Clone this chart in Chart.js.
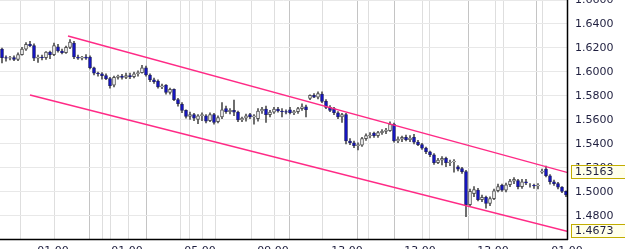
<!DOCTYPE html>
<html><head><meta charset="utf-8">
<script src="https://cdn.jsdelivr.net/npm/chart.js@4.4.1/dist/chart.umd.min.js"></script>
<style>html,body{margin:0;padding:0;background:#fff;overflow:hidden}</style>
</head><body>
<canvas id="c" width="625" height="249"></canvas>
<script>
// ---- data ----
const openP  = [1.619,1.612,1.6115,1.612,1.6105,1.6145,1.619,1.623,1.622,1.6115,1.6125,1.612,1.6165,1.6145,1.621,1.6175,1.616,1.6205,1.624,1.6125,1.6115,1.6125,1.6125,1.6035,1.599,1.5985,1.597,1.5945,1.589,1.5955,1.5965,1.5955,1.597,1.596,1.5985,1.5995,1.6035,1.5975,1.5935,1.5925,1.5875,1.589,1.583,1.5855,1.577,1.573,1.568,1.563,1.5645,1.5605,1.5635,1.5635,1.5595,1.5645,1.5585,1.5625,1.5695,1.567,1.568,1.5665,1.560,1.5615,1.5645,1.5625,1.561,1.5675,1.569,1.5645,1.5665,1.569,1.5675,1.567,1.5685,1.566,1.567,1.5695,1.571,1.578,1.5805,1.579,1.5815,1.5755,1.5705,1.5695,1.566,1.5625,1.5645,1.5425,1.541,1.5385,1.539,1.5445,1.547,1.549,1.547,1.5495,1.5505,1.551,1.5565,1.5425,1.544,1.5455,1.5435,1.5455,1.5415,1.5395,1.5365,1.5335,1.531,1.5245,1.5265,1.528,1.5245,1.525,1.521,1.5195,1.517,1.4895,1.4985,1.5015,1.4935,1.4955,1.4905,1.4945,1.501,1.5055,1.5015,1.506,1.509,1.5095,1.5045,1.5085,1.5055,1.5055,1.505,1.5165,1.519,1.5135,1.5085,1.507,1.504,1.5005];
const highP  = [1.620,1.6135,1.613,1.6135,1.616,1.6205,1.6245,1.6255,1.6235,1.614,1.614,1.617,1.6175,1.624,1.623,1.619,1.6215,1.627,1.6255,1.614,1.613,1.6145,1.6135,1.604,1.600,1.5995,1.5985,1.5955,1.5965,1.5975,1.598,1.599,1.599,1.600,1.601,1.6055,1.605,1.5985,1.595,1.5935,1.590,1.5895,1.5865,1.586,1.578,1.5745,1.5685,1.5665,1.5655,1.5645,1.566,1.5645,1.566,1.5655,1.5635,1.5745,1.5715,1.5695,1.5765,1.5675,1.5625,1.565,1.5655,1.5645,1.5695,1.5705,1.5715,1.568,1.5705,1.5705,1.5695,1.5685,1.5705,1.568,1.5705,1.5735,1.5725,1.581,1.582,1.5835,1.5835,1.577,1.572,1.5705,1.567,1.5655,1.5655,1.5445,1.5425,1.541,1.5455,1.5485,1.5495,1.550,1.5505,1.552,1.553,1.5585,1.5575,1.546,1.5465,1.5475,1.547,1.548,1.543,1.5405,1.5375,1.534,1.532,1.528,1.5295,1.529,1.5265,1.527,1.522,1.5205,1.518,1.5025,1.5045,1.503,1.4975,1.4965,1.496,1.5025,1.5065,1.5065,1.5075,1.5105,1.512,1.5105,1.5105,1.5105,1.507,1.5065,1.507,1.519,1.5215,1.5145,1.510,1.508,1.5045,1.501];
const lowP   = [1.6075,1.609,1.610,1.6095,1.6095,1.614,1.618,1.621,1.6095,1.608,1.610,1.6105,1.611,1.6135,1.6165,1.615,1.6155,1.6195,1.611,1.6105,1.610,1.6105,1.6025,1.5975,1.5965,1.594,1.5935,1.5865,1.5875,1.594,1.594,1.5945,1.5945,1.595,1.5965,1.599,1.5965,1.592,1.5905,1.5865,1.586,1.5815,1.5815,1.576,1.5715,1.566,1.5615,1.5605,1.5595,1.557,1.5595,1.5575,1.5585,1.5565,1.5575,1.561,1.5655,1.565,1.5635,1.5585,1.5585,1.559,1.561,1.5565,1.559,1.5655,1.558,1.5625,1.5655,1.5665,1.5625,1.565,1.565,1.5645,1.5655,1.568,1.5625,1.577,1.5785,1.5775,1.5745,1.5695,1.567,1.5645,1.561,1.558,1.540,1.5395,1.537,1.535,1.538,1.543,1.545,1.5455,1.5455,1.548,1.5485,1.5505,1.5415,1.541,1.542,1.5425,1.542,1.540,1.5385,1.5355,1.532,1.5295,1.523,1.5235,1.5225,1.521,1.522,1.5165,1.5175,1.5155,1.4795,1.4885,1.496,1.4925,1.492,1.4865,1.4885,1.4935,1.500,1.5005,1.500,1.5045,1.507,1.5025,1.503,1.506,1.504,1.503,1.5025,1.5155,1.5125,1.5065,1.5055,1.5025,1.4995,1.496];
const closeP = [1.612,1.6115,1.612,1.6105,1.6145,1.619,1.623,1.622,1.6115,1.6125,1.612,1.6165,1.6145,1.622,1.6175,1.616,1.6205,1.625,1.6125,1.6115,1.6125,1.6115,1.6035,1.599,1.5985,1.597,1.5945,1.5885,1.5955,1.5965,1.5955,1.597,1.596,1.5985,1.5995,1.6035,1.5975,1.5935,1.592,1.5875,1.5885,1.583,1.5855,1.577,1.5735,1.568,1.563,1.5645,1.5615,1.5635,1.5645,1.559,1.5645,1.558,1.562,1.5685,1.567,1.568,1.5665,1.560,1.5615,1.5635,1.5625,1.5635,1.5675,1.569,1.5645,1.5665,1.569,1.5675,1.567,1.5665,1.566,1.567,1.5695,1.571,1.5685,1.5805,1.579,1.582,1.5755,1.5705,1.568,1.566,1.5625,1.5645,1.5425,1.541,1.5385,1.5395,1.5445,1.547,1.5475,1.547,1.5495,1.5505,1.5515,1.5565,1.5425,1.544,1.5455,1.5435,1.545,1.5415,1.5395,1.5365,1.5335,1.531,1.5245,1.5265,1.528,1.5245,1.525,1.5255,1.519,1.517,1.4895,1.5005,1.502,1.4935,1.4955,1.4905,1.4945,1.501,1.5045,1.5015,1.506,1.509,1.5105,1.5045,1.5085,1.5075,1.5055,1.505,1.5055,1.5175,1.5135,1.5085,1.507,1.504,1.5005,1.4975];
const xTickPos    = [12.75, 31.25, 49.5, 67.75, 86.25, 104.5, 122.75, 141.25];
const xTickLabels = ['01:00','01:00','05:00','09:00','13:00','13:00','13:00','01:00'];
const yTickValues = [1.48, 1.50, 1.52, 1.54, 1.56, 1.58, 1.60, 1.62, 1.64, 1.66];
const sessionLines = [4.5, 13, 21.75, 25, 27, 31.5, 36, 44.5, 46.75, 50, 53.25, 62.25, 68, 71.75, 80, 88.75, 91.5, 98, 105, 106.75, 116.5, 123.25, 125.25, 133.5, 135];
const upperChannel = [[16.5, 1.630], [141.25, 1.5163]];
const lowerChannel = [[7, 1.5808], [141.25, 1.4673]];
const markerValues = [1.5163, 1.4673];

// ---- styling ----
const darkSession = new Set([21.75, 36, 71.75, 88.75, 98, 116.5, 133.5]);
const TXT = '#1f1f3f';
const FONT = {family: '"DejaVu Sans", Verdana, sans-serif', size: 11};
const idx = openP.map((_, i) => i);

const markerPlugin = {
  id: 'markers',
  afterDraw(chart) {
    const ys = chart.scales.y, ctx = chart.ctx, ca = chart.chartArea, left = ca.right + 4.5;
    ctx.save();
    // axis lines
    ctx.strokeStyle = '#000'; ctx.lineWidth = 1.5;
    ctx.beginPath();
    ctx.moveTo(ca.right + 0.5, 0); ctx.lineTo(ca.right + 0.5, ca.bottom + 1);
    ctx.moveTo(0, ca.bottom + 0.5); ctx.lineTo(ca.right + 1, ca.bottom + 0.5);
    ctx.stroke();
    markerValues.forEach(v => {
      const py = Math.round(ys.getPixelForValue(v));
      ctx.fillStyle = '#ffffea';
      ctx.fillRect(left, py - 6.5, 70, 13);
      ctx.strokeStyle = '#c2ad00'; ctx.lineWidth = 1;
      ctx.strokeRect(left, py - 6.5, 70, 13);
      ctx.fillStyle = TXT;
      ctx.font = '11px "DejaVu Sans", Verdana, sans-serif';
      ctx.textBaseline = 'middle'; ctx.textAlign = 'left';
      ctx.fillText(v.toFixed(4), left + 3.5, py + 0.5);
    });
    ctx.restore();
  }
};

new Chart(document.getElementById('c'), {
  data: {
    datasets: [
      {type: 'line', order: 1, data: upperChannel.map(p => ({x: p[0], y: p[1]})), borderColor: '#ff2a86', borderWidth: 1.4, pointRadius: 0, xAxisID: 'x'},
      {type: 'line', order: 1, data: lowerChannel.map(p => ({x: p[0], y: p[1]})), borderColor: '#ff2a86', borderWidth: 1.4, pointRadius: 0, xAxisID: 'x'},
      {type: 'bar', order: 2, grouped: false, barThickness: 3, borderSkipped: false, borderWidth: 1,
       data: idx.map(i => ({x: i, y: [openP[i], closeP[i]]})),
       backgroundColor: c => closeP[c.dataIndex] < openP[c.dataIndex] ? '#1212d0' : '#ffffff',
       borderColor: c => closeP[c.dataIndex] < openP[c.dataIndex] ? '#20206a' : '#505050', xAxisID: 'x'},
      {type: 'bar', order: 3, grouped: false, barThickness: 1, borderWidth: 0,
       data: idx.map(i => ({x: i, y: [lowP[i], highP[i]]})),
       backgroundColor: '#505050', xAxisID: 'x'}
    ]
  },
  options: {
    responsive: false, animation: false, devicePixelRatio: 1,
    layout: {padding: 0},
    plugins: {legend: {display: false}, tooltip: {enabled: false}},
    scales: {
      x: {type: 'linear', position: 'bottom', min: -0.5, max: 141.25, offset: false,
          grid: {display: false, drawTicks: false, offset: false},
          border: {display: false},
          afterBuildTicks: s => { s.ticks = xTickPos.map(v => ({value: v})); },
          afterFit: s => { s.height = 10; s.paddingLeft = 0; s.paddingRight = 0; },
          ticks: {autoSkip: false, maxRotation: 0, padding: 5.5, color: TXT, font: FONT,
                  callback: (v, i) => xTickLabels[i]}},
      xg: {type: 'linear', position: 'top', min: -0.5, max: 141.25, offset: false,
           grid: {drawTicks: false, offset: false, color: c => darkSession.has(c.tick && c.tick.value) ? '#c4c4c4' : '#dedede'},
           border: {display: false},
           afterBuildTicks: s => { s.ticks = sessionLines.map(v => ({value: v})); },
           afterFit: s => { s.height = 0; s.paddingLeft = 0; s.paddingRight = 0; },
           ticks: {display: false}},
      y: {type: 'linear', position: 'right', min: 1.4608, max: 1.66,
          grid: {drawTicks: false, color: '#e8e8e8'},
          border: {display: false},
          afterBuildTicks: s => { s.ticks = yTickValues.map(v => ({value: v})); },
          afterFit: s => { s.width = 58; s.paddingTop = 0; s.paddingBottom = 0; },
          ticks: {padding: 8, color: TXT, font: FONT, callback: v => v.toFixed(4)}}
    }
  },
  plugins: [markerPlugin]
});
</script>
</body></html>
